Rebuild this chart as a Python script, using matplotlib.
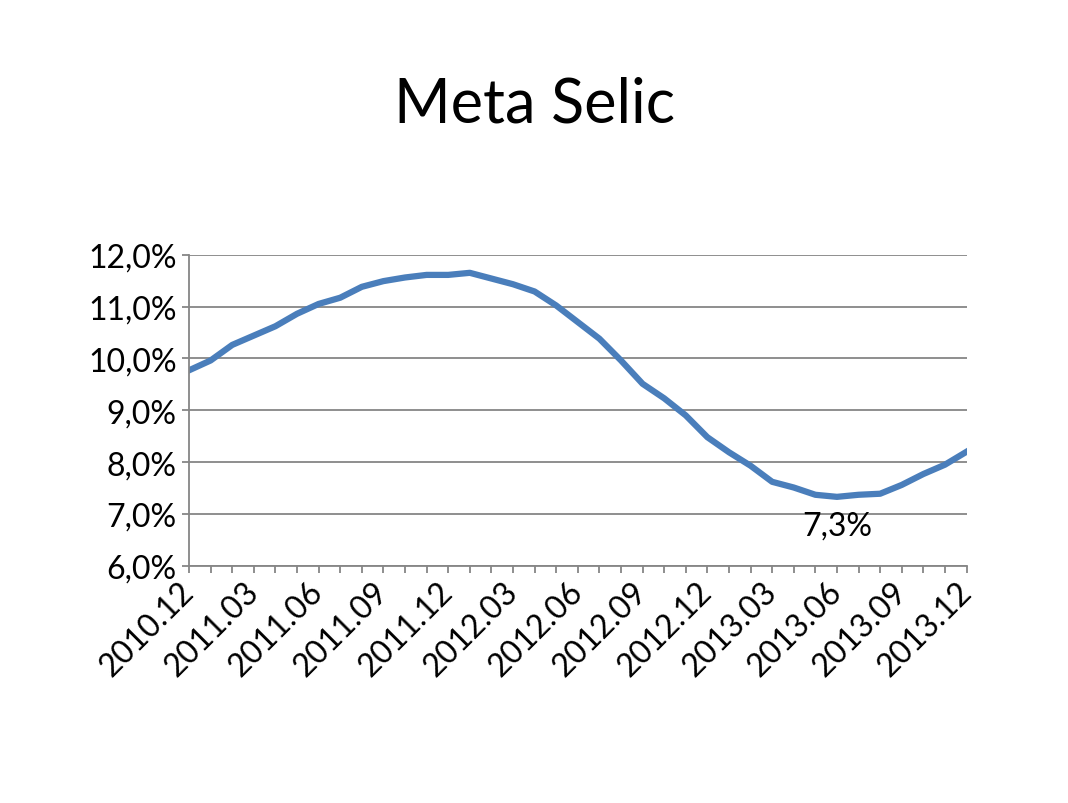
import matplotlib
matplotlib.use("Agg")
import matplotlib.pyplot as plt
from matplotlib.ticker import FuncFormatter

plt.rcParams['font.family'] = ['Lato', 'DejaVu Sans']

# months Dec/2010 .. Dec/2013
months = []
for y in range(2010, 2014):
    for m in range(1, 13):
        if (y == 2010 and m < 12):
            continue
        months.append("%d.%02d" % (y, m))

selic = [9.77, 9.96, 10.26, 10.44, 10.62, 10.86, 11.05, 11.17, 11.38, 11.49,
         11.56, 11.61, 11.61, 11.65, 11.54, 11.43, 11.29, 11.02, 10.70, 10.38,
         9.96, 9.51, 9.23, 8.90, 8.48, 8.19, 7.93, 7.62, 7.51, 7.37,
         7.33, 7.37, 7.39, 7.56, 7.77, 7.95, 8.20]

min_idx = 30
min_label = "7,3%"

grey = "#868686"

fig = plt.figure(figsize=(10.68, 8.04), dpi=100)
ax = fig.add_axes([0.177, 0.295, 0.728, 0.387])

x = list(range(len(months)))
ax.plot(x, selic, color="#4a7ebb", linewidth=4.5, solid_joinstyle="round")

ax.set_xlim(0, len(months) - 1)
ax.set_ylim(6, 12)
ax.set_yticks(range(6, 13))
ax.yaxis.set_major_formatter(FuncFormatter(lambda v, p: ("%.1f%%" % v).replace(".", ",")))
ax.grid(axis="y", color=grey, linewidth=1.3)
ax.set_axisbelow(True)

ax.set_xticks(x)
ax.set_xticklabels([m if i % 3 == 0 else "" for i, m in enumerate(months)],
                   rotation=45, ha="right", va="center", rotation_mode="anchor")

for s in ["top", "right"]:
    ax.spines[s].set_visible(False)
for s in ["left", "bottom"]:
    ax.spines[s].set_color(grey)
    ax.spines[s].set_linewidth(1.3)

ax.tick_params(axis="both", colors=grey, width=1.3, length=5, labelcolor="black", labelsize=23)
ax.tick_params(axis="x", pad=10)
ax.tick_params(axis="y", pad=4)

ax.annotate(min_label, (min_idx, selic[min_idx]), xytext=(0, -10), textcoords="offset points",
            ha="center", va="top", fontsize=23)

fig.suptitle("Meta Selic", y=0.905, fontsize=44)

fig.savefig("out.png", dpi=100)
